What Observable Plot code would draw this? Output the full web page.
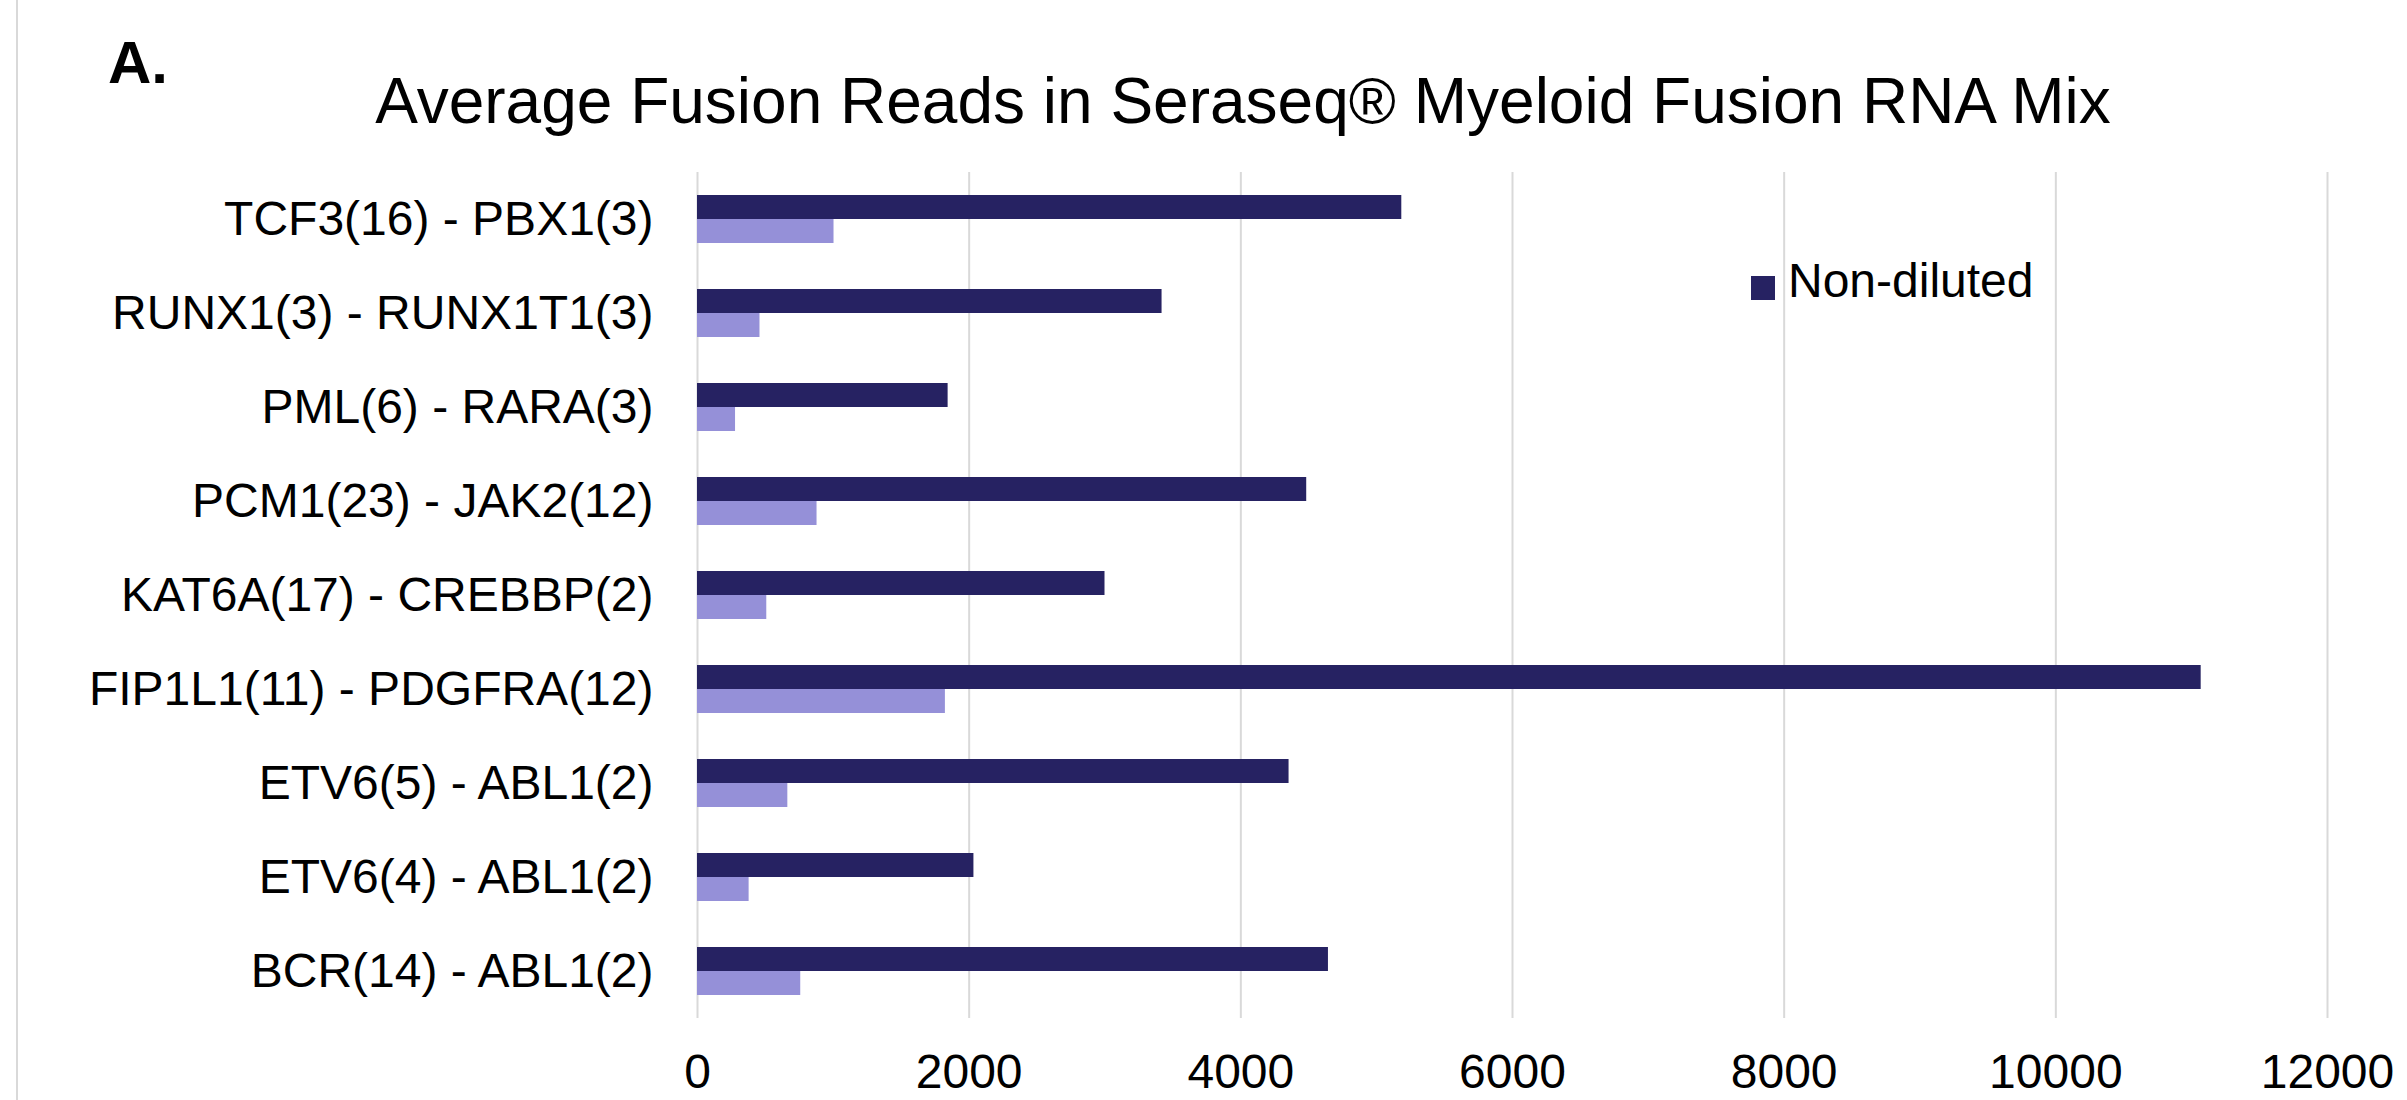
<!DOCTYPE html>
<html>
<head>
<meta charset="utf-8">
<script src="https://cdn.jsdelivr.net/npm/d3@7"></script>
<script src="https://cdn.jsdelivr.net/npm/@observablehq/plot@0.6"></script>
<style>
  html, body { margin: 0; padding: 0; background: #ffffff; }
  #fig { position: relative; width: 2407px; height: 1100px; overflow: hidden; font-family: "Liberation Sans", Arial, sans-serif; color: #000; }
  #header { position: relative; height: 160px; }
  #panel { position: absolute; left: 108px; top: 33px; font-size: 60px; font-weight: bold; line-height: 60px; white-space: nowrap; }
  #title { position: absolute; left: 1243px; top: 69px; transform: translateX(-50%); font-size: 64px; line-height: 64px; white-space: nowrap; }
  #border { position: absolute; left: 16px; top: 0; width: 2px; height: 1100px; background: #d9d9d9; }
  #legend { position: absolute; left: 1751px; top: 257px; display: flex; align-items: center; font-size: 48px; line-height: 48px; white-space: nowrap; }
  #legend .sw { width: 24px; height: 24px; margin-right: 13px; margin-top: 14px; }
</style>
</head>
<body>
<div id="fig">
  <div id="border"></div>
  <div id="header">
    <div id="panel">A.</div>
    <div id="title">Average Fusion Reads in Seraseq® Myeloid Fusion RNA Mix</div>
  </div>
  <div id="chart"></div>
  <div id="legend"></div>
</div>
<script>
// ---- data ----
const fusions = [
  "TCF3(16) - PBX1(3)",
  "RUNX1(3) - RUNX1T1(3)",
  "PML(6) - RARA(3)",
  "PCM1(23) - JAK2(12)",
  "KAT6A(17) - CREBBP(2)",
  "FIP1L1(11) - PDGFRA(12)",
  "ETV6(5) - ABL1(2)",
  "ETV6(4) - ABL1(2)",
  "BCR(14) - ABL1(2)"
];
const nonDiluted = [5185, 3420, 1845, 4485, 3000, 11070, 4355, 2035, 4645];
const diluted    = [1005,  460,  280,  880,  510,  1825,  665,  380,  760];
const seriesNames = ["Non-diluted", "Diluted"];
const seriesColors = ["#262262", "#9590d8"];
const xTicks = [0, 2000, 4000, 6000, 8000, 10000, 12000];
const legendShown = ["Non-diluted"];

// ---- table built from arrays ----
const rows = [];
fusions.forEach((f, i) => {
  rows.push({fusion: f, series: seriesNames[0], value: nonDiluted[i]});
  rows.push({fusion: f, series: seriesNames[1], value: diluted[i]});
});

const chart = Plot.plot({
  width: 2407,
  height: 940,
  marginTop: 11,
  marginBottom: 81,
  marginLeft: 697,
  marginRight: 80,
  style: {fontFamily: "'Liberation Sans', Arial, sans-serif", fontSize: "48px", color: "#000", background: "#fff"},
  facet: {data: rows, y: "fusion"},
  fy: {domain: fusions, padding: 0, label: null, tickSize: 0, tickPadding: 44, axis: "left"},
  y: {domain: seriesNames, paddingInner: 0, paddingOuter: 0.92, axis: null},
  x: {domain: [0, 12000], ticks: xTicks, tickSize: 0, tickPadding: 35, label: null, tickFormat: d3.format("d")},
  color: {domain: seriesNames, range: seriesColors},
  marks: [
    Plot.ruleX(xTicks, {stroke: "#d9d9d9", strokeWidth: 2}),
    Plot.barX(rows, {x: "value", y: "series", fill: "series"})
  ]
});
document.getElementById("chart").appendChild(chart);

// legend (only the entry visible in the reference)
const leg = document.getElementById("legend");
legendShown.forEach(name => {
  const sw = document.createElement("div");
  sw.className = "sw";
  sw.style.background = seriesColors[seriesNames.indexOf(name)];
  const tx = document.createElement("span");
  tx.textContent = name;
  leg.appendChild(sw);
  leg.appendChild(tx);
});
</script>
</body>
</html>
